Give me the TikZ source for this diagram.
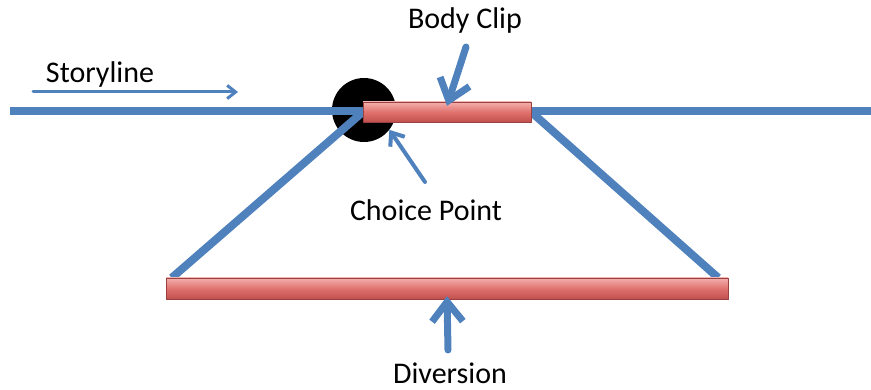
\documentclass[tikz,border=0pt]{standalone}
\usepackage{fontspec}
\setmainfont{Carlito}
\usetikzlibrary{arrows.meta,backgrounds}

\definecolor{lineblue}{RGB}{79,129,189}
\definecolor{clipdark}{RGB}{192,80,77}
\definecolor{clipmid}{RGB}{224,114,110}
\definecolor{cliplight}{RGB}{244,176,174}

\begin{document}
\begin{tikzpicture}[
	x=1pt,
	y=-1pt,
	line cap=round,
	line join=round,
	every node/.style={align=center, font=\fontsize{30}{34}\selectfont},
	track/.style={draw=lineblue, line width=8pt},
	pointer/.style={draw=lineblue, line width=#1,
		-{Straight Barb[length=2.8*#1, width=4.4*#1]}},
	pointer/.default=7pt,
	clip bar/.style={
		shape=rectangle,
		inner sep=0pt,
		draw=clipdark!80!black,
		line width=0.4pt,
		top color=cliplight,
		bottom color=clipdark,
		middle color=clipmid
	}
	]
	\useasboundingbox (0,0) rectangle (871,390);
	% clips
	\node [clip bar, minimum width=168pt, minimum height=20pt] (bodyclip) at (447,112) {};
	\node [clip bar, minimum width=562pt, minimum height=21pt] (diversion) at (447,288.5) {};
	% choice point and tracks underneath the clips
	\begin{pgfonlayer}{background}
		\node [shape=circle, fill=black, minimum size=64pt, inner sep=0pt] (choice) at (364,110) {};
		\coordinate (start) at (10,111);
		\coordinate (finish) at (871,111);
		\draw [track] (start) -- (finish);
		\draw [track] (bodyclip.west) -- ([xshift=6pt]diversion.north west);
		\draw [track] (bodyclip.east) -- ([xshift=-10pt]diversion.north east);
	\end{pgfonlayer}
	% labels
	\node (storyline) at (100,75) {Storyline};
	\node (bodylabel) at (465,21) {Body Clip};
	\node (choicelabel) at (426,210) {Choice Point};
	\node (divlabel) at (450,373) {Diversion};
	% pointers
	\coordinate (storytail) at (33,92);
	\coordinate (storyhead) at (238,92);
	\coordinate (bodytail) at (466,47);
	\coordinate (choicetail) at (425,182);
	\coordinate (divtail) at (448,350);
	\draw [pointer=3pt] (storytail) -- (storyhead);
	\draw [pointer] (bodytail) -- ([yshift=-4pt]bodyclip.north);
	\draw [pointer=4pt] (choicetail) -- (choice.-38);
	\draw [pointer] (divtail) -- ([yshift=3pt]diversion.south);
\end{tikzpicture}
\end{document}
